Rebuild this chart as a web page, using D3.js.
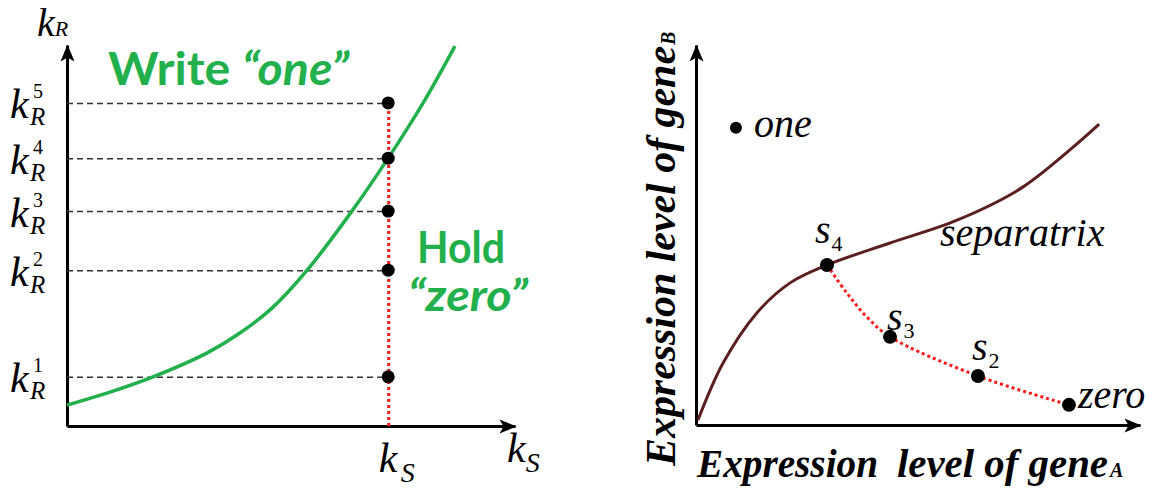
<!DOCTYPE html>
<html>
<head>
<meta charset="utf-8">
<script src="https://cdnjs.cloudflare.com/ajax/libs/d3/7.8.5/d3.min.js"></script>
<style>
  body { margin: 0; background: #fff; }
  svg { display: block; }
</style>
</head>
<body>
<div id="chart"></div>
<script>
// Left panel: k_R levels held at a fixed k_S
const kRLevels = [12.9, 40.9, 56.4, 70.3, 84.8];
const kRIndex = ["1", "2", "3", "4", "5"];
const kSValue = 71.7;
const boundaryX = [0, 9.6, 19.2, 31.3, 38.6, 46.0, 53.6, 63.6, 71.7, 79.5, 86.6];
const boundaryY = [5.5, 8.9, 12.9, 19.2, 24.4, 31.2, 40.9, 56.4, 70.3, 84.8, 99.7];

// Right panel: phase plane of gene A / gene B
const separatrixX = [0.45, 6.1, 13.7, 21.2, 29.5, 43.7, 58.8, 73.6, 90.8];
const separatrixY = [1.3, 16.3, 29.5, 37.4, 42.1, 47.9, 53.9, 62.6, 79.2];
const trajX = [29.5, 34.0, 38.5, 43.7, 63.5, 84.0];
const trajY = [42.1, 34.7, 28.4, 23.2, 12.9, 5.3];
const stateNames = ["one", "s4", "s3", "s2", "zero"];
const stateX = [9.0, 29.5, 43.7, 63.5, 84.0];
const stateY = [78.2, 42.1, 23.2, 12.9, 5.3];

const W = 1167, H = 492;
const GREEN = "#21b04b";
const SERIF = "'Liberation Serif', 'Times New Roman', serif";
const SANS = "Lato, 'Open Sans', sans-serif";

const xL = d3.scaleLinear().domain([0, 100]).range([67, 515]);
const yL = d3.scaleLinear().domain([0, 100]).range([426, 45]);
const xR = d3.scaleLinear().domain([0, 100]).range([696, 1140]);
const yR = d3.scaleLinear().domain([0, 100]).range([425, 45]);

const smooth = d3.curveCatmullRom.alpha(0.5);

const svg = d3.select("#chart").append("svg")
    .attr("width", W)
    .attr("height", H)
    .style("background", "#fff");

svg.append("defs").append("marker")
    .attr("id", "arrow")
    .attr("viewBox", "-17 -8 18 16")
    .attr("refX", 0)
    .attr("refY", 0)
    .attr("markerWidth", 18)
    .attr("markerHeight", 16)
    .attr("markerUnits", "userSpaceOnUse")
    .attr("orient", "auto")
    .append("path")
    .attr("d", "M1,0L-16,-7L-12,0L-16,7Z")
    .attr("fill", "#000");

const styleDomain = g => g.select(".domain")
    .attr("stroke", "#000")
    .attr("stroke-width", 3)
    .attr("marker-end", "url(#arrow)");

// ---------- left panel ----------
const left = svg.append("g");

// y axis: ticks become the dashed guides
left.append("g")
    .attr("transform", `translate(${xL(0)},0)`)
    .call(d3.axisLeft(yL).tickValues(kRLevels)
        .tickSize(-(xL(kSValue) - xL(0))).tickSizeOuter(0).tickFormat(""))
    .call(styleDomain)
    .call(g => g.selectAll(".tick text").remove())
    .call(g => g.selectAll(".tick line")
        .attr("stroke", "#333")
        .attr("stroke-width", 1.5)
        .attr("stroke-dasharray", "6 4"))
    .call(g => g.selectAll(".tick").each(function (d, i) {
        const t = d3.select(this);
        t.append("text")
            .attr("x", -57).attr("y", 15)
            .attr("text-anchor", "start")
            .attr("font-family", SERIF).attr("font-style", "italic")
            .attr("font-size", 42).attr("fill", "#000")
            .text("k");
        t.append("text")
            .attr("x", -34).attr("y", -5)
            .attr("text-anchor", "start")
            .attr("font-family", SERIF)
            .attr("font-size", 20).attr("fill", "#000")
            .text(kRIndex[i]);
        t.append("text")
            .attr("x", -37).attr("y", 22)
            .attr("text-anchor", "start")
            .attr("font-family", SERIF).attr("font-style", "italic")
            .attr("font-size", 25).attr("fill", "#000")
            .text("R");
    }));

// x axis: the k_S tick is the red dotted line
left.append("g")
    .attr("transform", `translate(0,${yL(0)})`)
    .call(d3.axisBottom(xL).tickValues([kSValue])
        .tickSize(-(yL(0) - yL(d3.max(kRLevels)))).tickSizeOuter(0).tickFormat(""))
    .call(styleDomain)
    .call(g => g.selectAll(".tick text").remove())
    .call(g => g.selectAll(".tick line")
        .attr("stroke", "#ff1a1a")
        .attr("stroke-width", 3)
        .attr("stroke-dasharray", "3 3"))
    .call(g => g.selectAll(".tick").each(function () {
        const t = d3.select(this);
        t.append("text")
            .attr("x", -10).attr("y", 46)
            .attr("text-anchor", "start")
            .attr("font-family", SERIF).attr("font-style", "italic")
            .attr("font-size", 42).attr("fill", "#000")
            .text("k");
        t.append("text")
            .attr("x", 12).attr("y", 56)
            .attr("text-anchor", "start")
            .attr("font-family", SERIF).attr("font-style", "italic")
            .attr("font-size", 28).attr("fill", "#000")
            .text("S");
    }));

// axis titles
const kR = left.append("text")
    .attr("x", 37).attr("y", 36)
    .attr("font-family", SERIF).attr("font-style", "italic").attr("fill", "#000");
kR.append("tspan").attr("font-size", 40).text("k");
kR.append("tspan").attr("font-size", 22).text("R");

const kS = left.append("text")
    .attr("x", 507).attr("y", 462)
    .attr("font-family", SERIF).attr("font-style", "italic").attr("fill", "#000");
kS.append("tspan").attr("font-size", 42).text("k");
kS.append("tspan").attr("font-size", 28).attr("dy", 10).text("S");

// boundary curve
left.append("path")
    .datum(d3.zip(boundaryX, boundaryY))
    .attr("fill", "none")
    .attr("stroke", GREEN)
    .attr("stroke-width", 3.5)
    .attr("d", d3.line().x(d => xL(d[0])).y(d => yL(d[1])).curve(smooth));

left.selectAll("circle")
    .data(kRLevels)
    .join("circle")
    .attr("cx", xL(kSValue))
    .attr("cy", d => yL(d))
    .attr("r", 6.5)
    .attr("fill", "#000");

// region labels
const write = left.append("text")
    .attr("x", 108).attr("y", 85)
    .attr("font-family", SANS).attr("font-weight", "bold")
    .attr("font-size", 45).attr("fill", GREEN)
    .attr("textLength", 241).attr("lengthAdjust", "spacingAndGlyphs");
write.append("tspan").text("Write ");
write.append("tspan").attr("font-style", "italic").text("\u201Cone\u201D");

left.append("text")
    .attr("x", 417).attr("y", 263)
    .attr("font-family", SANS).attr("font-weight", "bold")
    .attr("font-size", 44).attr("fill", GREEN)
    .attr("textLength", 88).attr("lengthAdjust", "spacingAndGlyphs")
    .text("Hold");

left.append("text")
    .attr("x", 408).attr("y", 311)
    .attr("font-family", SANS).attr("font-weight", "bold").attr("font-style", "italic")
    .attr("font-size", 44).attr("fill", GREEN)
    .attr("textLength", 120).attr("lengthAdjust", "spacingAndGlyphs")
    .text("\u201Czero\u201D");

// ---------- right panel ----------
const right = svg.append("g");

right.append("g")
    .attr("transform", `translate(${xR(0)},0)`)
    .call(d3.axisLeft(yR).tickValues([]).tickSizeOuter(0))
    .call(styleDomain);

right.append("g")
    .attr("transform", `translate(0,${yR(0)})`)
    .call(d3.axisBottom(xR).tickValues([]).tickSizeOuter(0))
    .call(styleDomain);

right.append("path")
    .datum(d3.zip(separatrixX, separatrixY))
    .attr("fill", "none")
    .attr("stroke", "#5b1f1f")
    .attr("stroke-width", 3)
    .attr("d", d3.line().x(d => xR(d[0])).y(d => yR(d[1])).curve(smooth));

right.append("path")
    .datum(d3.zip(trajX, trajY))
    .attr("fill", "none")
    .attr("stroke", "#ff1a1a")
    .attr("stroke-width", 3)
    .attr("stroke-dasharray", "3 3")
    .attr("d", d3.line().x(d => xR(d[0])).y(d => yR(d[1])).curve(smooth));

const states = stateNames.map((name, i) => ({ name, x: stateX[i], y: stateY[i] }));

right.selectAll("circle")
    .data(states)
    .join("circle")
    .attr("cx", d => xR(d.x))
    .attr("cy", d => yR(d.y))
    .attr("r", d => d.name === "one" ? 6 : 7)
    .attr("fill", "#000");

const labelOffset = {
    one: [18, 9], s4: [-12, -22], s3: [-3, -7], s2: [-6, -16], zero: [9, 3]
};

right.selectAll("text.state")
    .data(states)
    .join("text")
    .attr("class", "state")
    .attr("x", d => xR(d.x) + labelOffset[d.name][0])
    .attr("y", d => yR(d.y) + labelOffset[d.name][1])
    .attr("font-family", SERIF)
    .attr("font-size", 40)
    .attr("fill", "#000")
    .each(function (d) {
        const t = d3.select(this);
        if (d.name[0] === "s" && d.name.length === 2) {
            t.append("tspan").attr("font-style", "italic").text("s");
            t.append("tspan").attr("font-size", 22).attr("dx", 1).attr("dy", 8).text(d.name[1]);
        } else {
            t.append("tspan").attr("font-style", "italic").text(d.name);
        }
    });

right.append("text")
    .attr("x", 940).attr("y", 246)
    .attr("font-family", SERIF).attr("font-style", "italic")
    .attr("font-size", 40).attr("fill", "#000")
    .text("separatrix");

// axis titles
right.append("text")
    .attr("x", 697).attr("y", 477)
    .attr("font-family", SERIF).attr("font-style", "italic").attr("font-weight", "bold")
    .attr("font-size", 40).attr("fill", "#000")
    .attr("textLength", 181).attr("lengthAdjust", "spacingAndGlyphs")
    .text("Expression");
right.append("text")
    .attr("x", 897).attr("y", 477)
    .attr("font-family", SERIF).attr("font-style", "italic").attr("font-weight", "bold")
    .attr("font-size", 40).attr("fill", "#000")
    .attr("textLength", 211).attr("lengthAdjust", "spacingAndGlyphs")
    .text("level of gene");
right.append("text")
    .attr("x", 1110).attr("y", 477)
    .attr("font-family", SERIF).attr("font-style", "italic").attr("font-weight", "bold")
    .attr("font-size", 20).attr("fill", "#000")
    .text("A");

const yTitle = right.append("g")
    .attr("transform", "translate(675,466) rotate(-90)");
yTitle.append("text")
    .attr("x", 0).attr("y", 0)
    .attr("font-family", SERIF).attr("font-style", "italic").attr("font-weight", "bold")
    .attr("font-size", 42).attr("fill", "#000")
    .attr("textLength", 420).attr("lengthAdjust", "spacingAndGlyphs")
    .text("Expression level of gene");
yTitle.append("text")
    .attr("x", 421).attr("y", 0)
    .attr("font-family", SERIF).attr("font-style", "italic").attr("font-weight", "bold")
    .attr("font-size", 20).attr("fill", "#000")
    .text("B");
</script>
</body>
</html>
